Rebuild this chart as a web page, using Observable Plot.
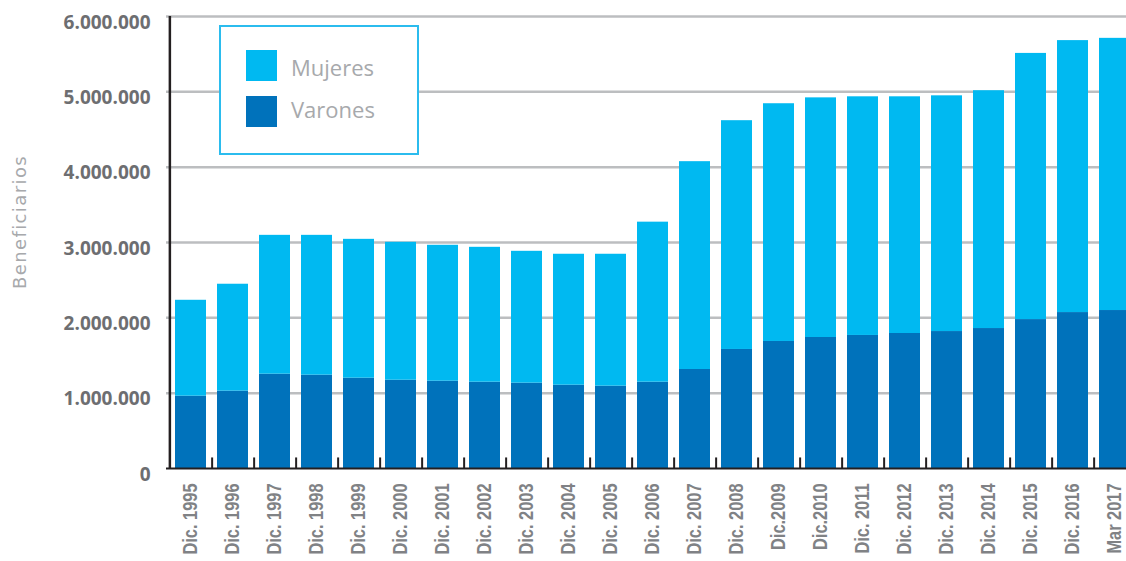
<!DOCTYPE html>
<html>
<head>
<meta charset="utf-8">
<script src="https://cdn.jsdelivr.net/npm/d3@7"></script>
<script src="https://cdn.jsdelivr.net/npm/@observablehq/plot@0.6"></script>
<style>
  html, body { margin: 0; padding: 0; background: #fff; overflow: hidden; }
  #wrap { position: relative; width: 1140px; height: 561px; }
  .chart g[aria-label="y-axis tick label"] { font: 700 19px "Open Sans", sans-serif; fill: #6d6e71; }
  .chart g[aria-label="x-axis tick label"] { font: 700 19.5px "Liberation Sans", sans-serif; fill: #808285; }
  #ytitle {
    position: absolute; left: 19px; top: 222px; transform: translate(-50%, -50%) rotate(-90deg);
    font: 400 18px "DejaVu Sans", sans-serif; letter-spacing: 1.4px; color: #a7a9ac; white-space: nowrap;
  }
  #legend {
    position: absolute; left: 219px; top: 25px; width: 200px; height: 130px;
    box-sizing: border-box; border: 2px solid #2bbcee; background: #fff;
    font: 400 22px "Open Sans", sans-serif; color: #a7a9ac;
  }
  #legend .item { position: absolute; left: 25px; display: flex; align-items: center; }
  #legend .sw { width: 31px; height: 31px; margin-right: 14px; }
  #legend .item span { position: relative; }
</style>
</head>
<body>
<div id="wrap"></div>
<script>
const categories = ["Dic. 1995","Dic. 1996","Dic. 1997","Dic. 1998","Dic. 1999","Dic. 2000","Dic. 2001","Dic. 2002","Dic. 2003","Dic. 2004","Dic. 2005","Dic. 2006","Dic. 2007","Dic. 2008","Dic.2009","Dic.2010","Dic. 2011","Dic. 2012","Dic. 2013","Dic. 2014","Dic. 2015","Dic. 2016","Mar 2017"];
const varones = [960000,1027000,1252000,1239000,1199000,1172000,1159000,1146000,1133000,1106000,1093000,1146000,1314000,1580000,1686000,1739000,1766000,1792000,1818000,1858000,1977000,2070000,2097000];
const mujeres = [1273000,1419000,1843000,1856000,1843000,1831000,1804000,1790000,1750000,1738000,1751000,2124000,2759000,3037000,3156000,3181000,3168000,3142000,3129000,3157000,3533000,3610000,3613000];
const series = ["Mujeres","Varones"];
const seriesColors = ["#00b9f1","#0072bb"];
const yTicks = [0,1000000,2000000,3000000,4000000,5000000,6000000];
const yTitle = "Beneficiarios";

const table = categories.flatMap((c, i) => [
  {cat: c, sexo: "Varones", value: varones[i]},
  {cat: c, sexo: "Mujeres", value: mujeres[i]}
]);

const fmt = d3.formatLocale({decimal: ",", thousands: ".", grouping: [3], currency: ["", ""]}).format(",");

const W = 1140, ML = 166, MR = 2;
const step = (W - ML - MR) / categories.length;

const chart = Plot.plot({
  width: W,
  height: 561,
  marginLeft: ML,
  marginRight: MR,
  marginTop: 16,
  marginBottom: 93,
  className: "chart",
  x: {domain: categories, paddingInner: 0.265, paddingOuter: 0.1325},
  y: {domain: [0, 6000000]},
  color: {domain: series, range: seriesColors},
  marks: [
    Plot.ruleY(yTicks.slice(1), {stroke: "#bcbec0", strokeWidth: 2.5}),
    Plot.barY(table, {x: "cat", y: "value", fill: "sexo"}),
    Plot.ruleY([0], {stroke: "#231f20", strokeWidth: 2}),
    Plot.ruleX([categories[0]], {dx: -step / 2, y1: 0, y2: 6000000, stroke: "#231f20", strokeWidth: 2.5}),
    Plot.ruleX(categories.slice(0, -1), {dx: step / 2, y1: 0, y2: 140000, stroke: "#231f20", strokeWidth: 2}),
    Plot.axisY({ticks: yTicks, tickFormat: fmt, tickSize: 0, tickPadding: 16, dy: 6, label: null}),
    Plot.axisX({tickRotate: -90, tickSize: 0, tickPadding: 15, label: null})
  ]
});

const wrap = document.getElementById("wrap");
wrap.appendChild(chart);

// condense the x labels to the reference's narrow face
const xl = chart.querySelectorAll('g[aria-label="x-axis tick label"] text');
let ref = null;
xl.forEach(t => { if (t.textContent === categories[0]) ref = t.getComputedTextLength(); });
const k = ref ? 71 / ref : 1;
xl.forEach(t => {
  const L = t.getComputedTextLength();
  t.setAttribute("textLength", (L * k).toFixed(1));
  t.setAttribute("lengthAdjust", "spacingAndGlyphs");
});

const yt = document.createElement("div");
yt.id = "ytitle";
yt.textContent = yTitle;
wrap.appendChild(yt);

const legend = document.createElement("div");
legend.id = "legend";
const labelShift = [1, -3];
series.forEach((s, i) => {
  const item = document.createElement("div");
  item.className = "item";
  item.style.top = (23 + i * 46) + "px";
  const sw = document.createElement("div");
  sw.className = "sw";
  sw.style.background = seriesColors[i];
  const lab = document.createElement("span");
  lab.textContent = s;
  lab.style.top = labelShift[i] + "px";
  item.appendChild(sw);
  item.appendChild(lab);
  legend.appendChild(item);
});
wrap.appendChild(legend);
</script>
</body>
</html>
